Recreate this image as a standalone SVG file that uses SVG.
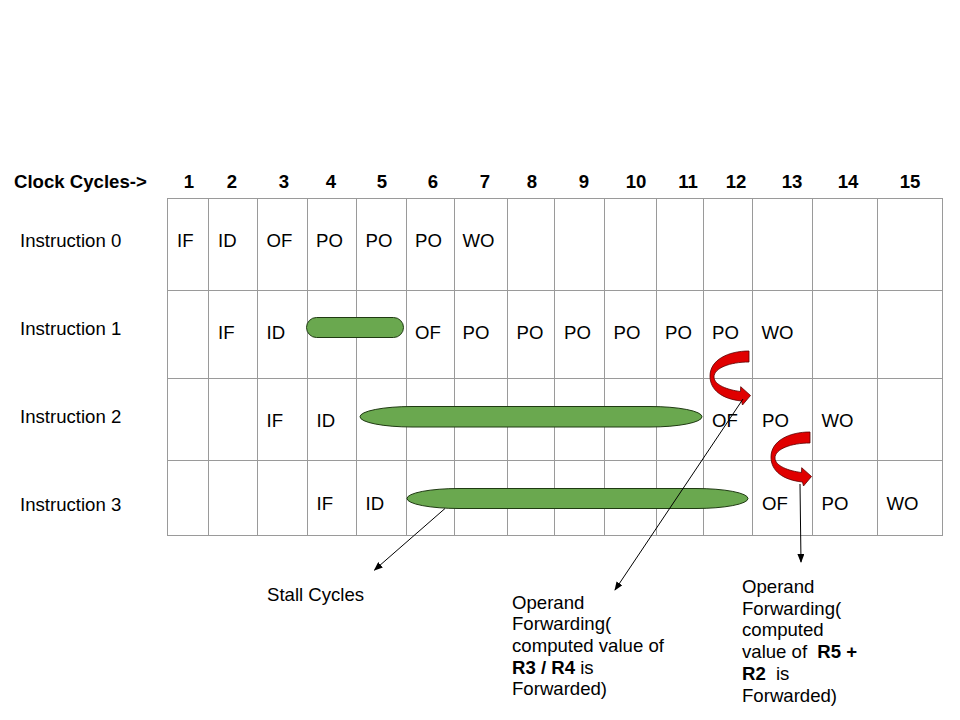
<svg xmlns="http://www.w3.org/2000/svg" xmlns:xlink="http://www.w3.org/1999/xlink" width="960" height="720" viewBox="0 0 960 720">
<style>
  text { font-family: "Liberation Sans", Arial, sans-serif; font-size: 18.6px; fill: #000; }
  .hdr { font-weight: bold; }
  .num { font-weight: bold; text-anchor: middle; }
  .b { font-weight: bold; }
  .grid { stroke: #9a9a9a; stroke-width: 1; fill: none; }
  .stall { fill: #6aa84f; stroke: #1f3a12; stroke-width: 1; }
  .fwd { fill: #e00000; stroke: #5a0000; stroke-width: 0.8; }
  .conn { stroke: #000; stroke-width: 1; fill: none; marker-end: url(#ah); }
</style>
<defs>
  <marker id="ah" markerWidth="9" markerHeight="7" refX="8" refY="3.5" orient="auto" markerUnits="userSpaceOnUse">
    <path d="M0,0 L9,3.5 L0,7 Z" fill="#000"/>
  </marker>
  <path id="curve" d="M749,351 L749,362 C730,362 714,368 714,377 C714,385 728,390 740.5,391.5 L740.7,386.7 L750.5,395.5 L742.5,405 L741.5,401 C722,399 710,390 710,376 C710,360 728,351 749,351 Z"/>
</defs>
<rect width="960" height="720" fill="#fff"/>

<g id="header">
  <text class="hdr" x="14" y="188">Clock Cycles-&gt;</text>
  <text class="num" x="189" y="188">1</text>
  <text class="num" x="232" y="188">2</text>
  <text class="num" x="284" y="188">3</text>
  <text class="num" x="331" y="188">4</text>
  <text class="num" x="382" y="188">5</text>
  <text class="num" x="433" y="188">6</text>
  <text class="num" x="485" y="188">7</text>
  <text class="num" x="532" y="188">8</text>
  <text class="num" x="584" y="188">9</text>
  <text class="num" x="636" y="188">10</text>
  <text class="num" x="688" y="188">11</text>
  <text class="num" x="736" y="188">12</text>
  <text class="num" x="792" y="188">13</text>
  <text class="num" x="848" y="188">14</text>
  <text class="num" x="910" y="188">15</text>
</g>

<g id="row-labels">
  <text x="20" y="247">Instruction 0</text>
  <text x="20" y="334.5">Instruction 1</text>
  <text x="20" y="422.5">Instruction 2</text>
  <text x="20" y="510.5">Instruction 3</text>
</g>

<g id="grid" class="grid">
  <rect x="167.5" y="198.5" width="775" height="337"/>
  <path d="M167.5,290.5 H942.5 M167.5,378.5 H942.5 M167.5,460.5 H942.5"/>
  <path d="M208.5,198.5 V535.5 M257.5,198.5 V535.5 M307.5,198.5 V535.5 M356.5,198.5 V535.5 M406.5,198.5 V535.5 M454.5,198.5 V535.5 M507.5,198.5 V535.5 M554.5,198.5 V535.5 M604.5,198.5 V535.5 M656.5,198.5 V535.5 M703.5,198.5 V535.5 M752.5,198.5 V535.5 M812.5,198.5 V535.5 M877.5,198.5 V535.5"/>
</g>

<g id="instruction-0">
  <text x="177" y="247">IF</text>
  <text x="218" y="247">ID</text>
  <text x="266.5" y="247">OF</text>
  <text x="316" y="247">PO</text>
  <text x="365.5" y="247">PO</text>
  <text x="415" y="247">PO</text>
  <text x="462.5" y="247">WO</text>
</g>

<g id="instruction-1">
  <text x="218" y="339">IF</text>
  <text x="266.5" y="339">ID</text>
  <rect class="stall" x="306.5" y="317.5" width="97" height="20" rx="10" ry="10"/>
  <text x="415" y="339">OF</text>
  <text x="462.5" y="339">PO</text>
  <text x="516.5" y="339">PO</text>
  <text x="564" y="339">PO</text>
  <text x="613.5" y="339">PO</text>
  <text x="665" y="339">PO</text>
  <text x="712" y="339">PO</text>
  <text x="761.5" y="339">WO</text>
</g>

<g id="instruction-2">
  <text x="266.5" y="427">IF</text>
  <text x="316.5" y="427">ID</text>
  <rect class="stall" x="360" y="406.5" width="342" height="20.5" rx="52" ry="10.25"/>
  <text x="712" y="427">OF</text>
  <text x="762" y="427">PO</text>
  <text x="821.5" y="427">WO</text>
</g>

<g id="instruction-3">
  <text x="316.5" y="509.5">IF</text>
  <text x="365.5" y="509.5">ID</text>
  <rect class="stall" x="407" y="488.5" width="341" height="20" rx="52" ry="10"/>
  <text x="762" y="509.5">OF</text>
  <text x="821.5" y="509.5">PO</text>
  <text x="886.5" y="509.5">WO</text>
</g>

<g id="forward-arrows">
  <use xlink:href="#curve" class="fwd"/>
  <use xlink:href="#curve" class="fwd" transform="translate(61,81)"/>
</g>

<g id="connectors">
  <line class="conn" x1="445" y1="508.5" x2="374.5" y2="570"/>
  <line class="conn" x1="743" y1="399" x2="615" y2="590"/>
  <line class="conn" x1="800" y1="484" x2="801" y2="562"/>
</g>

<g id="label-stall">
  <text x="267" y="600.5">Stall Cycles</text>
</g>

<g id="label-forward-1">
  <text x="512" y="608.5">Operand</text>
  <text x="512" y="630.2">Forwarding(</text>
  <text x="512" y="651.9">computed value of</text>
  <text x="512" y="673.6"><tspan class="b">R3 / R4</tspan> is</text>
  <text x="512" y="695.3">Forwarded)</text>
</g>

<g id="label-forward-2">
  <text x="742" y="593">Operand</text>
  <text x="742" y="614.7">Forwarding(</text>
  <text x="742" y="636.4">computed</text>
  <text x="742" y="658.1">value of <tspan class="b" dx="5">R5 +</tspan></text>
  <text x="742" y="679.8"><tspan class="b">R2</tspan><tspan dx="5"> is</tspan></text>
  <text x="742" y="701.5">Forwarded)</text>
</g>
</svg>
